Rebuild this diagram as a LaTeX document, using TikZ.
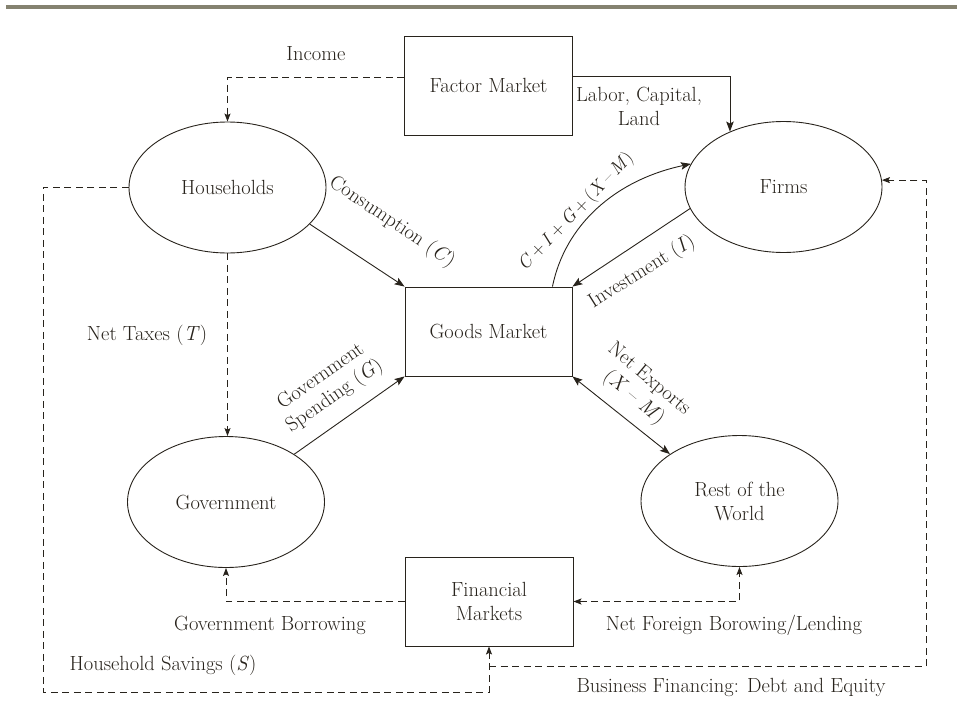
\documentclass[tikz,border=0pt]{standalone}
\usetikzlibrary{arrows.meta,shapes.geometric}
\definecolor{ink}{RGB}{40,35,28}
\definecolor{barcol}{RGB}{133,130,112}
\newcommand\fsz{\fontsize{20.5}{24}\selectfont}
\newcommand\fszs{\fontsize{18.5}{22}\selectfont}
\tikzset{
  box/.style={draw=ink, line width=0.9pt, rectangle, inner sep=0pt, text=ink, font=\fsz, align=center},
  ell/.style={draw=ink, line width=0.9pt, ellipse, minimum width=197pt, minimum height=131pt, inner sep=0pt, text=ink, font=\fsz, align=center},
  lbl/.style={text=ink, font=\fsz, inner sep=0pt, align=center},
  flow/.style={draw=ink, line width=0.9pt, -{Stealth[length=10pt,width=7.5pt,inset=2pt]}},
  dflow/.style={draw=ink, line width=0.9pt, dash pattern=on 7pt off 4.5pt, -{Stealth[length=8pt,width=6pt,inset=1.5pt]}},
  dboth/.style={draw=ink, line width=0.9pt, dash pattern=on 7pt off 4.5pt, {Stealth[length=8pt,width=6pt,inset=1.5pt]}-{Stealth[length=8pt,width=6pt,inset=1.5pt]}},
}
\begin{document}
\begin{tikzpicture}[x=1pt,y=-1pt]
\useasboundingbox (0,0) rectangle (957,725);
\fill[barcol] (6,5.5) rectangle (957,8.8);

% boxes
\node[box, minimum width=168pt, minimum height=99pt] (fm) at (488.5,85.5) {Factor Market};
\node[box, minimum width=167pt, minimum height=89pt] (gm) at (488.5,331.5) {Goods Market};
\node[box, minimum width=168pt, minimum height=89pt] (fin) at (489,601.5) {Financial\\Markets};

% ellipses
\node[ell] (hh) at (227.5,187.5) {Households};
\node[ell] (firms) at (783.5,187) {Firms};
\node[ell] (gov) at (226,502) {Government};
\node[ell] (row) at (739.5,501) {Rest of the\\World};

% helper coordinates
\coordinate (fml) at (404,77);
\coordinate (fmr) at (572,76);
\coordinate (hsl) at (43,692);
\coordinate (bfr) at (926,666);

% solid flows
\draw[flow] (fmr) -| (firms.134);
\draw[flow] (hh.-24) -- (gm.north west);
\draw[flow] (firms.193) -- (gm.north east);
\draw[flow] (gov.35) -- (gm.south west);
\draw[draw=ink, line width=0.9pt, {Stealth[length=10pt,width=7.5pt,inset=2pt]}-{Stealth[length=10pt,width=7.5pt,inset=2pt]}] (gm.south east) -- (row.146);
\draw[flow] ([xshift=-20pt]gm.north east) .. controls (565,225) and (615,180) .. (firms.166);

% dashed flows
\draw[dflow] (fml) -| (hh.north);
\draw[dflow] (hh.south) -- (hh.south |- gov.north);
\draw[dflow] (fin.west) -| (gov.south);
\draw[dboth] (fin.east) -| (row.south);
\draw[dflow] (hh.west) -| (hsl) -| (fin.south);
\draw[dflow] (fin.south |- bfr) -- (bfr) |- (firms.4);

% labels
\node[lbl] (lincome) at (316,54) {Income};
\node[lbl] (llabor) at (639,106) {Labor, Capital,\\Land};
\node[lbl, rotate=-34] (lcons) at (392,222) {Consumption (\textit{C})};
\node[lbl, font=\fszs, rotate=46] (lcig) at (576,212) {\textit{C}\hspace{3pt}+\hspace{3pt}\textit{I}\hspace{3pt}+\hspace{3pt}\textit{G}\hspace{3pt}+\hspace{3pt}(\textit{X}\hspace{3pt}--\hspace{3pt}\textit{M})};
\node[lbl, rotate=32] (linv) at (642,272) {Investment (\textit{I})};
\node[lbl] (ltax) at (147,335) {Net Taxes (\textit{T})};
\node[lbl, rotate=35] (lgs) at (328,387) {Government\\Spending (\textit{G})};
\node[lbl, rotate=-40] (lnx) at (641,389) {Net Exports\\(\textit{X} -- \textit{M})};
\node[lbl] (lgb) at (270,625) {Government Borrowing};
\node[lbl] (lnf) at (734,625) {Net Foreign Borowing/Lending};
\node[lbl] (lhs) at (163,665) {Household Savings (\textit{S})};
\node[lbl] (lbf) at (731,687) {Business Financing: Debt and Equity};
\end{tikzpicture}
\end{document}
